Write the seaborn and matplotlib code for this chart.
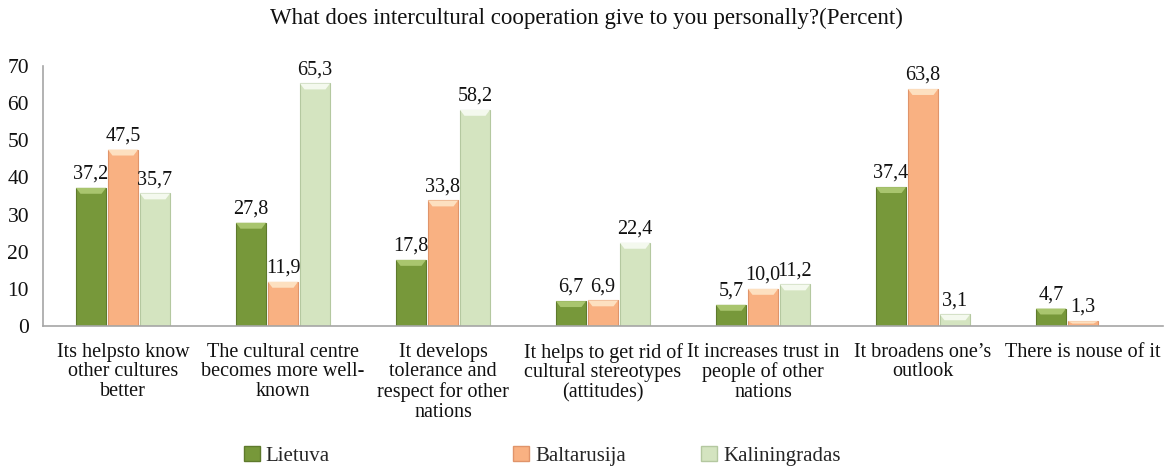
import numpy as np
import pandas as pd
import matplotlib
matplotlib.use("Agg")
import matplotlib.pyplot as plt
import seaborn as sns
from matplotlib.patches import Patch, Polygon

categories = [
    "Its helpsto know\nother cultures\nbetter",
    "The cultural centre\nbecomes more well-\nknown",
    "It develops\ntolerance and\nrespect for other\nnations",
    "It helps to get rid of\ncultural stereotypes\n(attitudes)",
    "It increases trust in\npeople of other\nnations",
    "It broadens one\u2019s\noutlook",
    "There is nouse of it",
]
series = ["Lietuva", "Baltarusija", "Kaliningradas"]
lietuva = [37.2, 27.8, 17.8, 6.7, 5.7, 37.4, 4.7]
baltarusija = [47.5, 11.9, 33.8, 6.9, 10.0, 63.8, 1.3]
kaliningradas = [35.7, 65.3, 58.2, 22.4, 11.2, 3.1, np.nan]
yticks = [0, 10, 20, 30, 40, 50, 60, 70]
title = "What does intercultural cooperation give to you personally?(Percent)"

colors = ["#77983a", "#f9b182", "#d4e4c0"]
edges = ["#5e7a2c", "#e0946a", "#b4c8a0"]
tops = ["#a9c56e", "#fde0c0", "#f4f9ee"]

rows = []
for name, vals in zip(series, [lietuva, baltarusija, kaliningradas]):
    for c, v in zip(categories, vals):
        rows.append({"cat": c, "series": name, "value": v})
df = pd.DataFrame(rows)

sns.set_theme(style="white")
plt.rcParams["font.family"] = ["Liberation Serif", "DejaVu Serif"]

fig = plt.figure(figsize=(11.72, 4.67), dpi=100)
ax = fig.add_axes([43/1172, 141/467, 1120/1172, 260/467])

sns.barplot(data=df, x="cat", y="value", hue="series", order=categories,
            hue_order=series, palette=colors, width=0.6, gap=0.06,
            ax=ax, legend=False, saturation=1)

ax.set_xlim(-0.5, 6.5)
ax.set_ylim(0, 70)

for cont, ec, tc in zip(ax.containers, edges, tops):
    for p in cont:
        p.set_edgecolor(ec)
        p.set_linewidth(0.8)
        h = p.get_height()
        if np.isnan(h) or h <= 0:
            continue
        x0 = p.get_x()
        w = p.get_width()
        bh = min(1.6, h * 0.5)
        inset = w * 0.15
        poly = Polygon([(x0, h), (x0 + w, h), (x0 + w - inset, h - bh), (x0 + inset, h - bh)],
                       closed=True, facecolor=tc, edgecolor="none", zorder=p.get_zorder() + 0.1)
        ax.add_patch(poly)
    labels = []
    for v in cont.datavalues:
        labels.append("" if np.isnan(v) else f"{v:.1f}".replace(".", ","))
    ax.bar_label(cont, labels=labels, padding=3, fontsize=14.5, color="#111111")

ax.set_yticks(yticks)
ax.set_yticklabels([str(t) for t in yticks], fontsize=15.5)
ax.set_xlabel("")
ax.set_ylabel("")
ax.set_xticks(range(len(categories)))
ax.set_xticklabels(categories, fontsize=14.5, multialignment="center", va="top",
                   linespacing=1.05)
ax.tick_params(axis="x", length=0, pad=12, colors="#111111")
ax.tick_params(axis="y", length=0, pad=10, colors="#111111")
for s in ["top", "right"]:
    ax.spines[s].set_visible(False)
for s in ["left", "bottom"]:
    ax.spines[s].set_color("#a6a6a6")
    ax.spines[s].set_linewidth(1.2)

fig.text(0.5, 1 - 18/467, title, ha="center", va="center", fontsize=16.5, color="#111111")

legend_x = [244, 513, 701]
for name, c, e, lx in zip(series, colors, edges, legend_x):
    fig.legend([Patch(facecolor=c, edgecolor=e)], [name], loc="center left",
               bbox_to_anchor=(lx/1172, 1 - 456/467), frameon=False, fontsize=15,
               handlelength=0.75, handleheight=0.75, handletextpad=0.3,
               borderpad=0, borderaxespad=0)

fig.savefig("out.png", dpi=100)
